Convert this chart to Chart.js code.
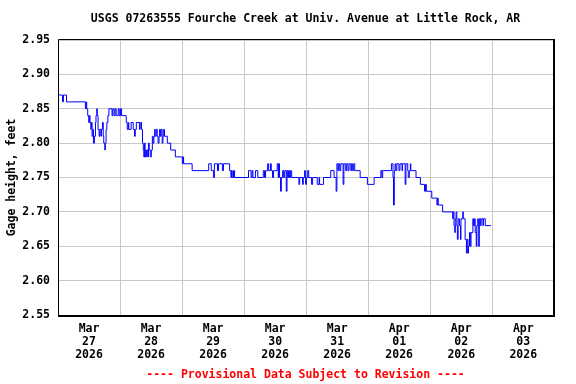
<!DOCTYPE html>
<html>
<head>
<meta charset="utf-8">
<script src="https://cdn.jsdelivr.net/npm/chart.js@4"></script>
<style>
  html, body { margin: 0; padding: 0; background: #fff; }
</style>
</head>
<body>
<canvas id="gageChart" width="576" height="384"></canvas>
<script>
// texts
const chartTitle = 'USGS 07263555 Fourche Creek at Univ. Avenue at Little Rock, AR';
const footNote = '---- Provisional Data Subject to Revision ----';
const yTitle = 'Gage height, feet';

// one label per day, drawn at noon
const dayLabels = [
  ['Mar', '27', '2026'], ['Mar', '28', '2026'], ['Mar', '29', '2026'], ['Mar', '30', '2026'],
  ['Mar', '31', '2026'], ['Apr', '01', '2026'], ['Apr', '02', '2026'], ['Apr', '03', '2026']
];

// hours since Mar 27 00:00, and the gage height that starts at that time (ft)
const hours = [
  0, 1.75, 2.1, 3.3, 10.6, 10.9, 11.1, 11.5, 11.9, 12.1, 12.4, 12.7, 12.9, 13.2, 13.5, 13.7, 14.1, 14.5, 14.7, 15.0,
  15.2, 15.5, 15.9, 16.2, 16.6, 16.8, 17.2, 17.5, 17.7, 18.1, 18.3, 18.6, 18.9, 19.3, 19.7, 20.9, 21.2, 21.7, 22.1, 22.5,
  23.3, 23.7, 24.2, 24.6, 26.4, 26.8, 27.2, 27.4, 28.3, 29.1, 29.6, 29.9, 30.3, 31.5, 31.8, 32.3, 32.7, 33.0, 33.2, 33.5,
  33.7, 34.0, 34.3, 34.5, 34.8, 35.0, 35.3, 35.7, 36.1, 36.5, 36.8, 37.1, 37.4, 37.6, 38.0, 38.4, 38.7, 39.1, 39.3, 39.6,
  39.9, 40.3, 40.6, 40.9, 41.2, 42.3, 43.6, 45.4, 48.1, 48.4, 48.6, 51.9, 58.3, 59.3, 60.2, 60.5, 61.7, 62.1, 63.6, 64.0,
  66.4, 66.9, 67.1, 67.4, 67.9, 68.3, 73.7, 74.7, 75.1, 75.4, 76.4, 77.3, 79.4, 79.9, 80.3, 81.1, 81.5, 82.2, 82.5, 83.0,
  83.4, 84.8, 85.2, 85.4, 85.7, 86.1, 86.4, 86.9, 87.3, 87.7, 88.3, 88.6, 88.9, 89.2, 89.6, 90.0, 90.4, 93.2, 93.5, 94.6,
  94.9, 95.4, 95.8, 96.1, 96.6, 97.0, 98.1, 98.5, 100.3, 101.0, 101.2, 102.7, 105.5, 106.8, 107.6, 107.9, 108.3, 108.6, 109.0, 109.4,
  110.3, 110.6, 111.3, 111.7, 112.2, 112.6, 113.3, 113.6, 114.0, 114.4, 114.8, 116.9, 119.7, 122.3, 124.9, 125.3, 125.6, 129.0, 129.6, 129.8,
  130.1, 130.4, 130.7, 131.1, 131.9, 132.3, 133.1, 133.3, 134.3, 134.6, 135.3, 135.5, 135.9, 136.3, 136.5, 138.5, 140.2, 141.8, 142.2, 142.5,
  144.6, 146.6, 146.9, 147.1, 148.8, 152.7, 152.9, 153.2, 153.5, 153.7, 154.0, 154.3, 154.5, 154.8, 155.3, 155.7, 155.9, 156.6, 156.8, 157.5,
  158.0, 158.3, 158.6, 158.8, 159.2, 159.5, 159.8, 160.5, 160.7, 161.1, 161.4, 161.8, 162.0, 162.4, 162.6, 163.0, 163.4, 163.7, 164.4, 164.6,
  165.3, 167.5
];
const gage = [
  2.87, 2.86, 2.87, 2.86, 2.85, 2.86, 2.85, 2.84, 2.83, 2.84, 2.83, 2.82, 2.83, 2.81, 2.82, 2.80, 2.81, 2.83, 2.84, 2.85,
  2.84, 2.82, 2.81, 2.82, 2.81, 2.82, 2.83, 2.81, 2.80, 2.79, 2.80, 2.82, 2.83, 2.84, 2.85, 2.84, 2.85, 2.84, 2.85, 2.84,
  2.85, 2.84, 2.85, 2.84, 2.83, 2.82, 2.83, 2.82, 2.83, 2.82, 2.81, 2.82, 2.83, 2.82, 2.83, 2.82, 2.80, 2.79, 2.78, 2.80,
  2.78, 2.79, 2.78, 2.79, 2.78, 2.80, 2.79, 2.78, 2.79, 2.81, 2.80, 2.81, 2.82, 2.81, 2.82, 2.81, 2.80, 2.81, 2.82, 2.81,
  2.82, 2.80, 2.81, 2.82, 2.81, 2.80, 2.79, 2.78, 2.77, 2.78, 2.77, 2.76, 2.77, 2.76, 2.75, 2.77, 2.76, 2.77, 2.76, 2.77,
  2.76, 2.75, 2.76, 2.75, 2.76, 2.75, 2.76, 2.75, 2.76, 2.75, 2.76, 2.75, 2.76, 2.75, 2.76, 2.77, 2.76, 2.77, 2.76, 2.75,
  2.76, 2.77, 2.75, 2.77, 2.75, 2.73, 2.75, 2.76, 2.75, 2.76, 2.73, 2.76, 2.75, 2.76, 2.75, 2.76, 2.75, 2.74, 2.75, 2.74,
  2.75, 2.76, 2.74, 2.75, 2.76, 2.75, 2.74, 2.75, 2.74, 2.75, 2.74, 2.75, 2.76, 2.75, 2.73, 2.77, 2.76, 2.77, 2.76, 2.77,
  2.74, 2.77, 2.76, 2.77, 2.76, 2.77, 2.76, 2.77, 2.76, 2.77, 2.76, 2.75, 2.74, 2.75, 2.76, 2.75, 2.76, 2.77, 2.75, 2.71,
  2.76, 2.77, 2.76, 2.77, 2.76, 2.77, 2.76, 2.77, 2.74, 2.77, 2.76, 2.75, 2.76, 2.77, 2.76, 2.75, 2.74, 2.73, 2.74, 2.73,
  2.72, 2.71, 2.72, 2.71, 2.70, 2.69, 2.70, 2.68, 2.67, 2.69, 2.70, 2.68, 2.66, 2.69, 2.68, 2.66, 2.69, 2.70, 2.69, 2.66,
  2.64, 2.66, 2.64, 2.65, 2.67, 2.65, 2.67, 2.69, 2.68, 2.69, 2.67, 2.65, 2.68, 2.69, 2.65, 2.69, 2.68, 2.69, 2.68, 2.69,
  2.68, 2.68
];

const monoBold = { family: '"DejaVu Sans Mono", monospace', size: 11.5, weight: 'bold', lineHeight: 1.1 };

let points = [];
for (let i = 0; i < hours.length; i++) {
  points.push({ x: hours[i], y: gage[i] });
}

// frame round the plot plus the title and the red note
const framePlugin = {
  id: 'framePlugin',
  afterDraw(chart) {
    const ctx = chart.ctx;
    const a = chart.chartArea;
    ctx.save();
    ctx.strokeStyle = '#000';
    // left and top: thin
    ctx.lineWidth = 1;
    ctx.beginPath();
    ctx.moveTo(a.left + 0.5, a.bottom);
    ctx.lineTo(a.left + 0.5, a.top - 0.5);
    ctx.lineTo(a.right, a.top - 0.5);
    ctx.stroke();
    // right and bottom: a bit heavier
    ctx.lineWidth = 2;
    ctx.beginPath();
    ctx.moveTo(a.left, a.bottom + 1);
    ctx.lineTo(a.right + 1, a.bottom + 1);
    ctx.lineTo(a.right + 1, a.top - 1);
    ctx.stroke();
    ctx.font = 'bold 11.5px "DejaVu Sans Mono", monospace';
    ctx.textAlign = 'center';
    ctx.textBaseline = 'middle';
    const cx = (a.left + a.right) / 2;
    ctx.fillStyle = '#000';
    ctx.fillText(chartTitle, cx, 19);
    ctx.fillStyle = '#ff0000';
    ctx.fillText(footNote, cx, 375);
    ctx.restore();
  }
};

const ctx = document.getElementById('gageChart').getContext('2d');
const gageChart = new Chart(ctx, {
  type: 'line',
  data: {
    datasets: [{
      data: points,
      stepped: true,
      borderColor: '#0000ff',
      borderWidth: 1,
      pointRadius: 0,
      fill: false
    }]
  },
  options: {
    responsive: false,
    animation: false,
    layout: { padding: { top: 40, right: 23, bottom: 19, left: 0 } },
    plugins: {
      legend: { display: false },
      tooltip: { enabled: false }
    },
    scales: {
      x: {
        type: 'linear',
        min: 0,
        max: 191.5,
        afterBuildTicks: (scale) => {
          const t = [];
          for (let h = 0; h <= 191.5; h += 12) t.push({ value: h });
          scale.ticks = t;
        },
        afterFit: (scale) => { scale.height = 50; },
        ticks: {
          autoSkip: false,
          maxRotation: 0,
          padding: 8,
          color: '#000',
          font: monoBold,
          callback: (v) => (v % 24 === 12 ? dayLabels[(v - 12) / 24] : '')
        },
        grid: {
          drawTicks: false,
          color: (c) => (c.tick && c.tick.value % 24 === 0 ? '#c8c8c8' : 'rgba(0,0,0,0)')
        },
        border: { display: false }
      },
      y: {
        min: 2.55,
        max: 2.95,
        afterFit: (scale) => { scale.width = 58; },
        ticks: {
          stepSize: 0.05,
          padding: 8,
          color: '#000',
          font: monoBold,
          callback: (v) => v.toFixed(2)
        },
        grid: { drawTicks: false, color: '#c8c8c8' },
        border: { display: false },
        title: {
          display: true,
          text: yTitle,
          color: '#000',
          font: monoBold,
          padding: { top: 6, bottom: 0 }
        }
      }
    }
  },
  plugins: [framePlugin]
});
</script>
</body>
</html>
